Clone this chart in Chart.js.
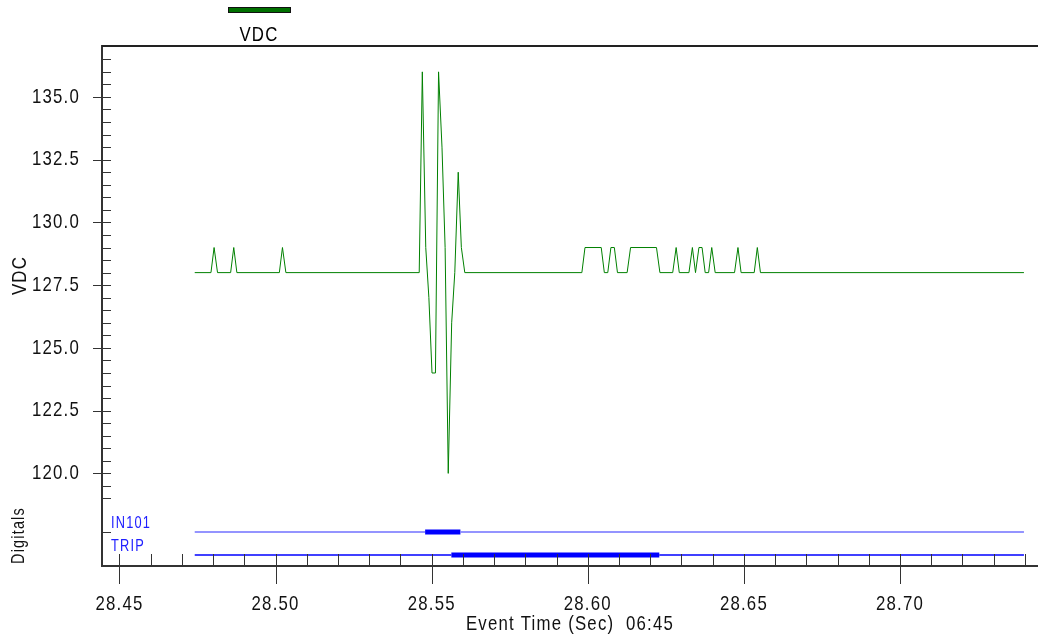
<!DOCTYPE html>
<html>
<head>
<meta charset="utf-8">
<script src="https://cdn.jsdelivr.net/npm/chart.js@4"></script>
<style>
html,body{margin:0;padding:0;background:#fff;}
</style>
</head>
<body>
<canvas id="c" width="1038" height="634"></canvas>
<script>
// VDC samples, only where the trace changes (flat at 128 in between)
const vdcTime = [
  28.4741, 28.4793, 28.4803, 28.4814, 28.4856, 28.4866, 28.4876, 28.5012, 28.5022, 28.5033,
  28.5460, 28.5470, 28.5481, 28.5491, 28.5501, 28.5512, 28.5522, 28.5533, 28.5543, 28.5553,
  28.5564, 28.5574, 28.5585, 28.5595, 28.5606,
  28.5981, 28.5991, 28.6043, 28.6053, 28.6064, 28.6074, 28.6085, 28.6095, 28.6126, 28.6137,
  28.6220, 28.6231, 28.6272, 28.6283, 28.6293, 28.6324, 28.6335, 28.6345, 28.6356, 28.6366,
  28.6376, 28.6387, 28.6397, 28.6408, 28.6470, 28.6481, 28.6491, 28.6533, 28.6543, 28.6553,
  28.7397
];
const vdcValue = [
  128, 128, 129, 128, 128, 129, 128, 128, 129, 128,
  128, 136, 129, 127, 124, 124, 136, 133, 129, 120,
  126, 128, 132, 129, 128,
  128, 129, 129, 128, 128, 129, 129, 128, 128, 129,
  129, 128, 128, 129, 128, 128, 129, 128, 129, 129,
  128, 128, 129, 128, 128, 129, 128, 128, 129, 128,
  128
];

const digitalNames = ['IN101', 'TRIP'];
const in101Time = [28.4741, 28.5479, 28.5592, 28.7397];
const in101State = [0, 1, 0, 0];
const tripTime = [28.4741, 28.5563, 28.6229, 28.7397];
const tripState = [0, 1, 0, 0];

const xTickLabels = [28.45, 28.50, 28.55, 28.60, 28.65, 28.70];
const yTickLabels = [120.0, 122.5, 125.0, 127.5, 130.0, 132.5, 135.0];

const FONT = '"Liberation Sans", Arial, sans-serif';
const green = '#008000';

function digitalSet(name, times, states, lane, thin) {
  return {
    label: name,
    yAxisID: 'yDig',
    data: times.map(t => ({x: t, y: lane})),
    borderColor: thin,
    borderWidth: 1.5,
    pointRadius: 0,
    segment: {
      borderWidth: c => states[c.p0DataIndex] ? 5 : 1.5,
      borderColor: c => states[c.p0DataIndex] ? '#0000ff' : thin
    }
  };
}

const decor = {
  id: 'decor',
  beforeInit(chart) {
    // the original uses a narrow, spaced face: squeeze every text run to 80%
    const ctx = chart.ctx;
    const fill = ctx.fillText;
    ctx.fillText = function (s, x, y, w) {
      const m = this.measureText(s).width * 0.8;
      return fill.call(this, s, x, y, w === undefined ? m : Math.min(w, m));
    };
  },
  beforeDraw(chart) {
    chart.ctx.letterSpacing = '1.5px';
  },
  afterDraw(chart) {
    const ctx = chart.ctx, a = chart.chartArea;
    const x = chart.scales.x, y = chart.scales.y, yd = chart.scales.yDig;
    ctx.save();
    ctx.strokeStyle = '#222';
    ctx.lineWidth = 2;
    ctx.beginPath();
    ctx.moveTo(a.left, a.top);
    ctx.lineTo(a.right, a.top);
    ctx.stroke();

    ctx.lineWidth = 1;
    ctx.strokeStyle = '#333';
    for (let v = 119; v <= 136.5; v += 0.5) {
      const py = Math.round(y.getPixelForValue(v)) + 0.5;
      const major = yTickLabels.includes(v);
      ctx.beginPath();
      ctx.moveTo(major ? a.left - 9 : a.left, py);
      ctx.lineTo(a.left + 9, py);
      ctx.stroke();
    }
    const pd = Math.round(yd.getPixelForValue(digitalNames.length)) + 0.5;
    ctx.beginPath();
    ctx.moveTo(a.left, pd);
    ctx.lineTo(a.left + 9, pd);
    ctx.stroke();

    for (let k = 0; k < 30; k++) {
      const v = 28.45 + k * 0.01;
      const px = Math.round(x.getPixelForValue(v)) + 0.5;
      ctx.beginPath();
      ctx.moveTo(px, a.bottom - 12);
      ctx.lineTo(px, k % 5 === 0 ? a.bottom + 18 : a.bottom);
      ctx.stroke();
    }

    // digital channel names
    ctx.fillStyle = '#2020ff';
    ctx.font = '16px ' + FONT;
    ctx.letterSpacing = '1.5px';
    ctx.textAlign = 'left';
    ctx.textBaseline = 'alphabetic';
    digitalNames.forEach((n, i) => {
      const py = yd.getPixelForValue(digitalNames.length - i);
      ctx.fillText(n, a.left + 9, py - 4);
    });

    // legend: bar with the label under it
    const ds = chart.data.datasets[0];
    ctx.fillStyle = '#007000';
    ctx.strokeStyle = '#111';
    ctx.fillRect(228, 7, 63, 6);
    ctx.strokeRect(228.5, 7.5, 62, 5);
    ctx.fillStyle = '#000';
    ctx.font = '21px ' + FONT;
    ctx.textAlign = 'center';
    ctx.textBaseline = 'middle';
    ctx.fillText(ds.label, 259, 35);
    ctx.restore();
  }
};

const tickFont = {family: FONT, size: 21};

new Chart(document.getElementById('c'), {
  type: 'line',
  data: {
    datasets: [
      {
        label: 'VDC',
        data: vdcTime.map((t, i) => ({x: t, y: vdcValue[i]})),
        borderColor: green,
        borderWidth: 1,
        pointRadius: 0,
        yAxisID: 'y'
      },
      digitalSet(digitalNames[0], in101Time, in101State, 2, '#7070ff'),
      digitalSet(digitalNames[1], tripTime, tripState, 1, '#0000ff')
    ]
  },
  options: {
    responsive: false,
    animation: false,
    layout: {padding: {top: 46, right: 0, left: 0, bottom: 0}},
    plugins: {legend: {display: false}, tooltip: {enabled: false}},
    elements: {line: {tension: 0}},
    scales: {
      x: {
        type: 'linear',
        position: 'bottom',
        min: 28.4444,
        max: 28.7442,
        afterFit: s => { s.height = 68; },
        afterBuildTicks: s => { s.ticks = xTickLabels.map(v => ({value: v})); },
        ticks: {
          callback: v => v.toFixed(2),
          font: tickFont, color: '#111', padding: 26,
          maxRotation: 0, autoSkip: false
        },
        grid: {drawOnChartArea: false, drawTicks: false},
        border: {color: '#333', width: 2},
        title: {display: true, text: 'Event Time (Sec)  06:45', font: {family: FONT, size: 21}, color: '#111', padding: {top: 0, bottom: -3}}
      },
      y: {
        type: 'linear',
        position: 'left',
        stack: 'v',
        stackWeight: 459,
        weight: 1,
        min: 118.74,
        max: 137.03,
        afterFit: s => { s.width = 102; },
        afterBuildTicks: s => { s.ticks = yTickLabels.map(v => ({value: v})); },
        ticks: {callback: v => v.toFixed(1), font: tickFont, color: '#111', padding: 22},
        grid: {drawOnChartArea: false, drawTicks: false},
        border: {color: '#333', width: 2},
        title: {display: true, text: 'VDC', font: {family: FONT, size: 21}, color: '#111', padding: {top: 8, bottom: 0}}
      },
      yDig: {
        type: 'linear',
        position: 'left',
        stack: 'v',
        stackWeight: 61,
        weight: 0,
        min: 0.522,
        max: 3.17,
        afterFit: s => { s.width = 102; },
        afterBuildTicks: s => { s.ticks = []; },
        ticks: {display: false},
        grid: {drawOnChartArea: false, drawTicks: false},
        border: {color: '#333', width: 2},
        title: {display: true, text: 'Digitals', font: {family: FONT, size: 18}, color: '#111', padding: {top: 8, bottom: 0}}
      }
    }
  },
  plugins: [decor]
});
</script>
</body>
</html>
